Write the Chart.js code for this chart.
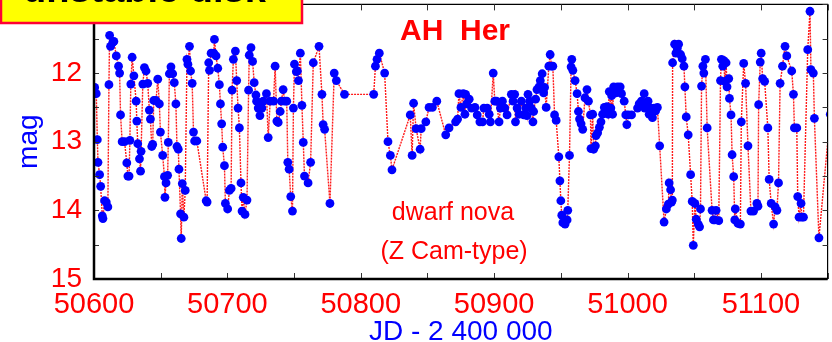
<!DOCTYPE html>
<html lang="en">
<head>
<meta charset="UTF-8">
<title>AH Her light curve</title>
<script src="https://cdn.jsdelivr.net/npm/chart.js"></script>
<style>
  html, body { margin: 0; padding: 0; background: #fff; }
  #wrap { width: 832px; height: 342px; }
</style>
</head>
<body>
<div id="wrap"><canvas id="lightCurve" width="832" height="342"></canvas></div>
<script>
// Visual estimates of AH Her, JD - 2400000 vs. magnitude
const jd = [
  50600.5, 50601.7, 50602.5, 50603.0, 50604.2, 50605.0, 50606.2, 50606.7, 50607.9, 50609.2,
  50610.4, 50611.2, 50611.7, 50612.4, 50614.2, 50614.9, 50616.7, 50618.4, 50619.2, 50619.9,
  50621.1, 50622.9, 50624.6, 50625.4, 50626.3, 50626.9, 50627.6, 50628.6, 50629.9, 50631.6,
  50632.1, 50632.8, 50634.1, 50634.9, 50635.3, 50636.6, 50637.8, 50639.0, 50640.3, 50641.5,
  50642.3, 50643.3, 50644.0, 50644.8, 50646.5, 50647.8, 50649.0, 50649.8, 50651.5, 50652.8,
  50653.2, 50654.0, 50655.2, 50655.7, 50656.5, 50657.7, 50659.0, 50660.2, 50661.4, 50662.2,
  50663.2, 50663.7, 50664.9, 50665.4, 50666.2, 50667.4, 50668.4, 50669.7, 50670.4, 50671.6,
  50672.4, 50673.6, 50674.6, 50675.4, 50677.1, 50684.1, 50684.8, 50686.0, 50686.6, 50687.8,
  50689.8, 50690.3, 50691.5, 50692.8, 50694.0, 50694.8, 50695.7, 50696.5, 50697.8, 50698.5,
  50700.2, 50701.5, 50702.8, 50703.5, 50704.5, 50706.0, 50707.0, 50708.0, 50709.0, 50710.2,
  50711.0, 50711.9, 50713.2, 50714.7, 50715.9, 50716.4, 50717.7, 50718.9, 50720.1, 50721.4,
  50721.9, 50723.1, 50724.4, 50725.9, 50726.9, 50729.3, 50730.6, 50732.1, 50734.6, 50735.8,
  50737.1, 50738.1, 50739.6, 50740.5, 50741.8, 50743.0, 50744.5, 50745.3, 50746.3, 50747.5,
  50748.8, 50749.5, 50750.3, 50751.7, 50752.5, 50753.3, 50754.7, 50755.9, 50756.9, 50757.8,
  50760.5, 50762.4, 50764.4, 50768.7, 50770.9, 50771.8, 50772.9, 50776.9, 50780.1, 50781.7,
  50787.8, 50809.7, 50811.0, 50812.2, 50813.9, 50817.9, 50820.4, 50822.2, 50823.4, 50837.1,
  50838.5, 50839.6, 50841.5, 50844.5, 50845.3, 50848.8, 50851.2, 50853.7, 50857.0, 50863.7,
  50866.2, 50871.1, 50872.6, 50873.6, 50875.1, 50876.9, 50878.1, 50878.6, 50879.4, 50881.3,
  50883.1, 50885.6, 50887.3, 50889.3, 50891.3, 50892.3, 50894.8, 50896.3, 50897.2, 50899.3,
  50900.5, 50901.7, 50903.7, 50904.7, 50906.2, 50908.0, 50909.7, 50912.9, 50914.2, 50915.4,
  50916.0, 50917.2, 50918.7, 50920.4, 50922.2, 50923.7, 50924.6, 50925.4, 50926.6, 50927.8,
  50929.1, 50929.6, 50931.1, 50932.1, 50933.6, 50934.6, 50936.0, 50937.1, 50937.8, 50939.0,
  50941.0, 50942.0, 50943.0, 50944.0, 50945.3, 50946.5, 50948.5, 50949.3, 50950.0, 50950.7,
  50951.5, 50953.2, 50954.7, 50955.2, 50956.5, 50957.7, 50958.2, 50959.0, 50960.7, 50962.2,
  50963.2, 50964.0, 50965.2, 50966.4, 50968.1, 50969.6, 50970.7, 50972.2, 50972.6, 50973.9,
  50974.6, 50975.9, 50976.4, 50977.6, 50978.9, 50980.1, 50981.3, 50982.6, 50984.6, 50985.5,
  50986.3, 50987.5, 50988.1, 50988.8, 50989.6, 50991.3, 50992.5, 50994.5, 50995.5, 50997.5,
  50998.7, 50999.5, 51000.5, 51003.0, 51007.5, 51008.7, 51010.4, 51012.5, 51012.9, 51014.4,
  51015.4, 51016.2, 51017.4, 51018.7, 51019.9, 51021.1, 51022.4, 51024.1, 51027.4, 51029.1,
  51030.6, 51031.2, 51032.3, 51033.0, 51033.6, 51033.8, 51035.3, 51036.3, 51037.3, 51038.3,
  51039.8, 51041.0, 51042.3, 51043.0, 51044.0, 51045.5, 51047.3, 51048.5, 51049.3, 51050.5,
  51051.5, 51053.0, 51054.0, 51054.7, 51055.5, 51056.5, 51057.2, 51058.4, 51059.7, 51063.4,
  51064.4, 51065.4, 51066.4, 51068.4, 51069.7, 51070.4, 51071.4, 51072.2, 51072.9, 51073.9,
  51074.6, 51075.9, 51076.4, 51077.6, 51078.4, 51079.6, 51080.4, 51080.8, 51082.8, 51084.6,
  51085.3, 51087.1, 51088.5, 51090.3, 51092.5, 51094.5, 51097.0, 51097.8, 51098.3, 51099.5,
  51100.2, 51101.3, 51102.8, 51105.2, 51106.2, 51107.7, 51109.5, 51110.7, 51112.0, 51113.2,
  51114.4, 51116.2, 51118.1, 51119.4, 51123.1, 51124.4, 51125.1, 51126.9, 51127.6, 51128.6,
  51130.1, 51130.6, 51131.9, 51135.1, 51136.8, 51137.5, 51139.3, 51140.1, 51143.5, 51152.0
];

const mag = [
  12.21, 12.30, 12.97, 13.30, 13.48, 13.65, 14.08, 14.12, 13.86, 13.88,
  13.95, 12.17, 11.45, 11.61, 11.55, 11.54, 11.75, 11.90, 12.00, 12.61,
  13.00, 13.00, 13.31, 13.50, 13.50, 12.98, 12.16, 11.77, 12.04, 12.41,
  12.70, 13.03, 13.25, 13.43, 13.14, 12.16, 11.92, 11.97, 12.15, 12.54,
  12.67, 13.07, 13.04, 12.40, 12.40, 12.09, 12.45, 12.86, 13.20, 13.51,
  13.81, 13.60, 13.49, 13.01, 12.01, 11.91, 12.01, 12.14, 12.45, 13.07,
  13.11, 13.40, 14.05, 14.41, 13.61, 14.10, 13.71, 11.80, 11.87, 11.61,
  11.97, 12.15, 12.86, 12.99, 12.99, 13.86, 13.88, 11.85, 11.96, 11.71,
  11.71, 11.51, 11.75, 11.93, 12.17, 12.45, 12.74, 13.08, 13.35, 13.90,
  13.98, 13.71, 13.68, 12.25, 11.80, 11.68, 12.11, 12.51, 12.80, 13.60,
  14.01, 13.81, 14.06, 13.85, 12.25, 11.74, 11.63, 11.83, 12.14, 12.32,
  12.41, 12.51, 12.62, 12.51, 12.41, 12.30, 12.94, 12.41, 12.41, 11.90,
  12.70, 12.72, 12.56, 12.41, 12.24, 12.41, 12.41, 13.30, 13.40, 13.80,
  14.01, 12.51, 11.87, 11.98, 11.97, 12.11, 11.71, 12.47, 13.01, 13.50,
  13.60, 13.30, 11.85, 11.61, 12.31, 12.75, 12.82, 13.90, 12.00, 12.11,
  12.31, 12.31, 11.90, 11.80, 11.71, 12.00, 13.00, 13.20, 13.41, 12.61,
  13.20, 12.44, 12.81, 13.11, 12.81, 12.71, 12.50, 12.50, 12.41, 12.90,
  12.80, 12.71, 12.67, 12.30, 12.50, 12.30, 12.60, 12.31, 12.45, 12.38,
  12.51, 12.50, 12.61, 12.71, 12.71, 12.51, 12.51, 12.60, 12.71, 12.00,
  12.41, 12.41, 12.71, 12.51, 12.41, 12.51, 12.61, 12.31, 12.41, 12.31,
  12.71, 12.51, 12.60, 12.41, 12.61, 12.51, 12.62, 12.31, 12.41, 12.51,
  12.71, 12.56, 12.38, 12.24, 12.20, 12.11, 12.01, 12.29, 12.21, 12.50,
  11.90, 11.73, 11.90, 11.90, 12.61, 12.69, 13.22, 13.57, 13.86, 14.07,
  14.18, 14.20, 14.14, 14.00, 13.20, 11.91, 11.80, 11.96, 12.11, 12.30,
  12.56, 12.67, 12.74, 12.82, 12.36, 12.24, 12.41, 12.61, 13.10, 12.60,
  13.11, 13.06, 12.91, 12.87, 12.79, 12.71, 12.60, 12.50, 12.49, 12.60,
  12.27, 12.51, 12.33, 12.60, 12.20, 12.29, 12.20, 12.20, 12.30, 12.41,
  12.61, 12.75, 12.61, 12.61, 12.51, 12.45, 12.41, 12.30, 12.51, 12.45,
  12.41, 12.60, 12.51, 12.65, 12.51, 12.55, 12.50, 13.06, 14.17, 13.98,
  13.91, 13.60, 13.70, 13.88, 13.85, 11.85, 11.58, 11.71, 11.64, 11.58,
  11.73, 11.79, 11.90, 12.20, 12.64, 12.90, 13.48, 13.87, 14.51, 13.90,
  14.13, 14.20, 14.24, 13.98, 12.19, 11.90, 12.00, 11.80, 12.80, 14.00,
  14.14, 14.14, 14.00, 14.15, 12.11, 11.80, 11.90, 11.82, 12.12, 11.85,
  12.20, 12.08, 12.37, 12.61, 13.19, 13.51, 14.14, 13.98, 14.19, 14.20,
  12.71, 11.86, 12.15, 13.06, 14.01, 14.01, 13.90, 13.94, 12.46, 11.84,
  11.71, 12.08, 12.12, 12.80, 13.55, 13.90, 14.20, 13.95, 14.00, 13.60,
  12.15, 11.90, 11.61, 11.75, 11.97, 12.31, 12.80, 12.80, 13.80, 14.10,
  13.90, 14.10, 14.10, 11.66, 11.10, 11.95, 12.00, 12.66, 14.40, 12.60
];

const xTicks = [50600, 50700, 50800, 50900, 51000, 51100];
const yTicks = [12, 13, 14, 15];

const LABEL_FONT = '"Liberation Sans", Arial, sans-serif';

// inward ticks and the box around the plot
const framePlugin = {
  id: 'frame',
  afterDatasetsDraw(chart) {
    const { ctx, chartArea: a, scales: { x, y } } = chart;
    ctx.save();
    ctx.strokeStyle = '#000';
    ctx.lineWidth = 1.2;
    ctx.beginPath();
    ctx.moveTo(a.left, a.top);
    ctx.lineTo(a.right, a.top);
    ctx.lineTo(a.right, a.bottom);
    ctx.stroke();

    ctx.lineWidth = 1;
    ctx.strokeStyle = '#333';
    ctx.beginPath();
    for (let v = 50600; v <= 51150; v += 50) {
      const px = Math.round(x.getPixelForValue(v)) + 0.5;
      ctx.moveTo(px, a.bottom); ctx.lineTo(px, a.bottom - 6);
      ctx.moveTo(px, a.top); ctx.lineTo(px, a.top + 6);
    }
    for (let v = 11; v <= 15; v += 0.5) {
      const py = Math.round(y.getPixelForValue(v)) + 0.5;
      ctx.moveTo(a.left, py); ctx.lineTo(a.left + 5, py);
      ctx.moveTo(a.right, py); ctx.lineTo(a.right - 5, py);
    }
    ctx.stroke();

    ctx.strokeStyle = '#000';
    ctx.lineWidth = 2.5;
    ctx.beginPath();
    ctx.moveTo(a.left, a.top);
    ctx.lineTo(a.left, a.bottom);
    ctx.lineTo(a.right, a.bottom);
    ctx.stroke();
    ctx.restore();
  },
  afterDraw(chart) {
    const { ctx } = chart;
    ctx.save();
    // star name and type
    ctx.fillStyle = '#ff0000';
    ctx.textBaseline = 'alphabetic';
    ctx.textAlign = 'left';
    ctx.font = 'bold 30px ' + LABEL_FONT;
    ctx.fillText('AH  Her', 400, 40);
    ctx.textAlign = 'center';
    ctx.font = '25px ' + LABEL_FONT;
    ctx.fillText('dwarf nova', 453, 220);
    ctx.fillText('(Z Cam-type)', 454, 259);

    // slide caption box in the corner
    ctx.fillStyle = '#ffff00';
    ctx.fillRect(0, 0, 302, 23);
    ctx.strokeStyle = '#ff0033';
    ctx.lineWidth = 2.5;
    ctx.strokeRect(1, -5, 301, 28);
    ctx.fillStyle = '#000';
    ctx.textAlign = 'left';
    ctx.font = 'bold 38px ' + LABEL_FONT;
    ctx.fillText('unstable disk', 23, 2);
    ctx.restore();
  }
};

new Chart(document.getElementById('lightCurve'), {
  type: 'scatter',
  data: {
    datasets: [{
      data: jd.map((d, i) => ({ x: d, y: mag[i] })),
      showLine: true,
      borderColor: '#ff1a1a',
      borderWidth: 1.4,
      borderDash: [2, 1],
      pointRadius: 4.4,
      pointBackgroundColor: '#0000ff',
      pointBorderWidth: 0,
      clip: 0
    }]
  },
  options: {
    responsive: false,
    animation: false,
    layout: { padding: { top: 3, right: 2, left: 0, bottom: 0 } },
    plugins: { legend: { display: false }, tooltip: { enabled: false } },
    scales: {
      x: {
        type: 'linear',
        min: 50600,
        max: 51150,
        afterBuildTicks: s => { s.ticks = xTicks.map(v => ({ value: v })); },
        afterFit: s => {
          s.height = 63;
          s.paddingLeft = 0;
          s.paddingRight = 0;
        },
        grid: { display: false, drawTicks: false },
        border: { display: false },
        ticks: {
          color: '#ff0000',
          font: { family: LABEL_FONT, size: 29 },
          padding: 9,
          maxRotation: 0,
          autoSkip: false,
          callback: v => String(v)
        },
        title: {
          display: true,
          text: 'JD - 2 400 000',
          color: '#0000ff',
          font: { family: LABEL_FONT, size: 28 },
          padding: { top: 0, bottom: -7 }
        }
      },
      y: {
        reverse: true,
        min: 11,
        max: 15,
        afterBuildTicks: s => { s.ticks = yTicks.map(v => ({ value: v })); },
        afterFit: s => {
          s.width = 94;
          s.paddingTop = 0;
          s.paddingBottom = 0;
        },
        grid: { display: false, drawTicks: false },
        border: { display: false },
        ticks: {
          color: '#ff0000',
          font: { family: LABEL_FONT, size: 28 },
          padding: 12,
          autoSkip: false
        },
        title: {
          display: true,
          text: 'mag',
          color: '#0000ff',
          font: { family: LABEL_FONT, size: 28 },
          padding: { top: 12, bottom: 0 }
        }
      }
    }
  },
  plugins: [framePlugin]
});
</script>
</body>
</html>
